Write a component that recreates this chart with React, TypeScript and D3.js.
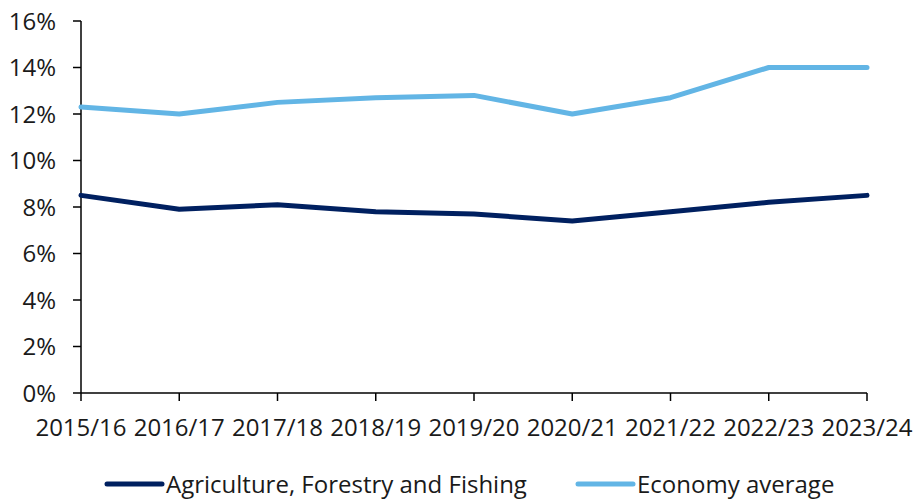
import React from "react";
import * as d3 from "d3";

const categories = ["2015/16", "2016/17", "2017/18", "2018/19", "2019/20", "2020/21", "2021/22", "2022/23", "2023/24"];
const agriculture = [8.5, 7.9, 8.1, 7.8, 7.7, 7.4, 7.8, 8.2, 8.5];
const economy = [12.3, 12.0, 12.5, 12.7, 12.8, 12.0, 12.7, 14.0, 14.0];
const yTicks = [0, 2, 4, 6, 8, 10, 12, 14, 16];
const seriesNames = ["Agriculture, Forestry and Fishing", "Economy average"];
const seriesColors = ["#002060", "#62B5E5"];

const W = 918;
const H = 502;
const left = 81;
const right = 867;
const top = 21;
const bottom = 393;
const font = "'Open Sans', 'Noto Sans', sans-serif";
const textColor = "#1a1a1a";
const fs = 24;

export default function App() {
  const x = d3.scalePoint<string>().domain(categories).range([left, right]);
  const y = d3.scaleLinear().domain([0, 16]).range([bottom, top]);
  const line = d3
    .line<number>()
    .x((_, i) => x(categories[i]) as number)
    .y((d) => y(d));
  const series = [agriculture, economy];
  const legend = [
    { x1: 107, x2: 162, tx: 166 },
    { x1: 578, x2: 633, tx: 637 },
  ];
  return (
    <svg width={W} height={H} style={{ position: "absolute", left: 0, top: 0 }}>
      <rect width={W} height={H} fill="#fff" />
      {yTicks.map((t) => (
        <g key={t}>
          <line x1={73} x2={left} y1={y(t)} y2={y(t)} stroke="#000" strokeWidth={1.5} />
          <text x={56} y={y(t)} dy="0.36em" textAnchor="end" fontFamily={font} fontSize={fs} fill={textColor}>
            {t}%
          </text>
        </g>
      ))}
      {categories.map((c) => (
        <g key={c}>
          <line x1={x(c)} x2={x(c)} y1={bottom} y2={401} stroke="#000" strokeWidth={1.5} />
          <text x={x(c)} y={436} textAnchor="middle" fontFamily={font} fontSize={fs} fill={textColor}>
            {c}
          </text>
        </g>
      ))}
      <line x1={left} x2={left} y1={top} y2={bottom} stroke="#000" strokeWidth={1.5} />
      <line x1={left} x2={right} y1={bottom} y2={bottom} stroke="#000" strokeWidth={1.5} />
      {series.map((s, i) => (
        <path key={i} d={line(s) || ""} fill="none" stroke={seriesColors[i]} strokeWidth={5} strokeLinejoin="round" strokeLinecap="round" />
      ))}
      {legend.map((l, i) => (
        <g key={i}>
          <line x1={l.x1} x2={l.x2} y1={484} y2={484} stroke={seriesColors[i]} strokeWidth={5} strokeLinecap="round" />
          <text x={l.tx} y={484} dy="0.36em" fontFamily={font} fontSize={fs} fill={textColor}>
            {seriesNames[i]}
          </text>
        </g>
      ))}
    </svg>
  );
}
